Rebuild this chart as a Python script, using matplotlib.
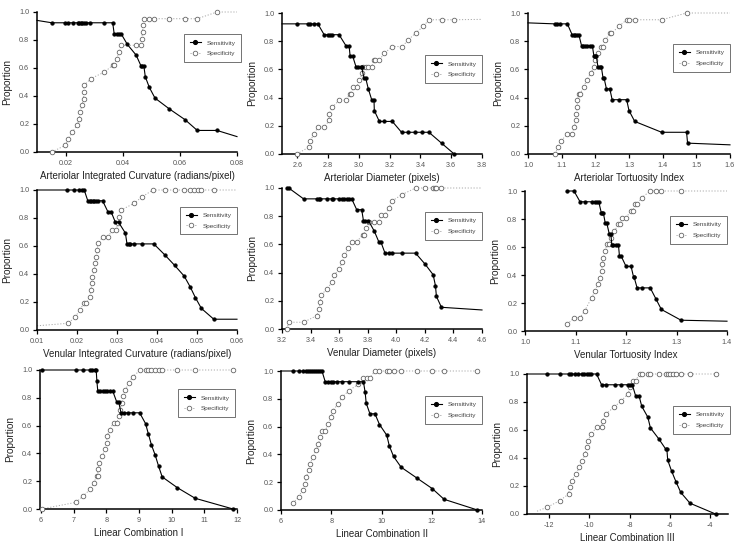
import matplotlib
matplotlib.use("Agg")
import matplotlib.pyplot as plt
from matplotlib.lines import Line2D

plt.rcParams['font.family'] = ['Liberation Sans', 'DejaVu Sans']

# ---------------- data ----------------
# Panel 1: Arteriolar Integrated Curvature
p1_sens_x = [0.0152, 0.0199, 0.0210, 0.0226, 0.0242, 0.0248, 0.0254, 0.0259, 0.0265, 0.0272, 0.0286, 0.0335, 0.0365,
             0.0370, 0.0379, 0.0388, 0.0394, 0.0416, 0.0447, 0.0464, 0.0469, 0.0474, 0.0479, 0.0493, 0.0513, 0.0563,
             0.0618, 0.0661, 0.0730]
p1_sens_y = [0.923] * 13 + [0.846] * 4 + [0.769, 0.692, 0.615, 0.615, 0.615, 0.538, 0.462, 0.385, 0.308, 0.231, 0.154, 0.154]
p1_spec_x = [0.0152, 0.0199, 0.0210, 0.0224, 0.0240, 0.0248, 0.0251, 0.0257, 0.0263, 0.0263, 0.0265, 0.0288, 0.0336,
             0.0365, 0.0370, 0.0379, 0.0388, 0.0394, 0.0447, 0.0463, 0.0466, 0.0470, 0.0470, 0.0474, 0.0492, 0.0509,
             0.0563, 0.0618, 0.0661, 0.0730]
p1_spec_y = [0.0, 0.048, 0.095, 0.143, 0.190, 0.238, 0.286, 0.333, 0.381, 0.429, 0.476, 0.524, 0.571, 0.619, 0.619,
             0.667, 0.714, 0.762, 0.762, 0.762, 0.810, 0.857, 0.905, 0.952, 0.952, 0.952, 0.952, 0.952, 0.952, 1.0]
p1_sens_ends = [(0.01, 0.94), (0.08, 0.11)]
p1_spec_ends = [None, (0.08, 1.0)]

# Panel 2: Arteriolar Diameter
p2_sens_x = [2.597, 2.668, 2.679, 2.705, 2.733, 2.774, 2.802, 2.813, 2.828, 2.871, 2.915, 2.936, 2.943, 2.960, 2.982,
             2.997, 3.012, 3.018, 3.033, 3.044, 3.061, 3.083, 3.098, 3.100, 3.133, 3.165, 3.217, 3.277, 3.321, 3.364,
             3.407, 3.455, 3.537, 3.619]
p2_sens_y = [0.923] * 5 + [0.846] * 5 + [0.769, 0.769, 0.692, 0.692] + [0.615] * 4 + [0.538, 0.538, 0.462, 0.385, 0.385,
             0.308, 0.231, 0.231, 0.231] + [0.154] * 5 + [0.077, 0.0]
p2_spec_x = [2.597, 2.673, 2.684, 2.709, 2.733, 2.774, 2.807, 2.807, 2.828, 2.871, 2.915, 2.943, 2.949, 2.964, 2.986,
             3.003, 3.023, 3.029, 3.044, 3.061, 3.083, 3.098, 3.105, 3.133, 3.165, 3.217, 3.282, 3.321, 3.368, 3.418,
             3.455, 3.537, 3.619]
p2_spec_y = [0.0, 0.048, 0.095, 0.143, 0.190, 0.190, 0.238, 0.286, 0.333, 0.381, 0.381, 0.429, 0.429, 0.476, 0.476,
             0.524, 0.571, 0.619, 0.619, 0.619, 0.619, 0.667, 0.667, 0.667, 0.714, 0.762, 0.762, 0.810, 0.857, 0.905,
             0.952, 0.952, 0.952]
p2_sens_ends = [(2.5, 0.923), None]
p2_spec_ends = [None, (3.8, 0.955)]

# Panel 3: Arteriolar Tortuosity Index
p3_sens_x = [1.079, 1.087, 1.094, 1.117, 1.131, 1.136, 1.141, 1.147, 1.151, 1.159, 1.164, 1.169, 1.176, 1.184, 1.191,
             1.196, 1.200, 1.203, 1.208, 1.213, 1.218, 1.223, 1.226, 1.233, 1.243, 1.250, 1.270, 1.293, 1.300, 1.317,
             1.397, 1.471, 1.474]
p3_sens_y = [0.923] * 4 + [0.846] * 5 + [0.769] * 6 + [0.692] * 3 + [0.615] * 3 + [0.538, 0.538, 0.462, 0.462,
             0.385, 0.385, 0.385, 0.308, 0.231, 0.154, 0.154, 0.077]
p3_spec_x = [1.081, 1.089, 1.099, 1.117, 1.131, 1.137, 1.142, 1.144, 1.146, 1.147, 1.151, 1.155, 1.166, 1.174, 1.186,
             1.196, 1.200, 1.208, 1.218, 1.223, 1.230, 1.243, 1.248, 1.270, 1.293, 1.300, 1.317, 1.397, 1.471]
p3_spec_y = [0.0, 0.048, 0.095, 0.143, 0.143, 0.190, 0.238, 0.286, 0.333, 0.381, 0.429, 0.429, 0.476, 0.524, 0.571,
             0.619, 0.667, 0.714, 0.762, 0.762, 0.810, 0.857, 0.857, 0.905, 0.952, 0.952, 0.952, 0.952, 1.0]
p3_sens_ends = [(1.0, 0.93), (1.6, 0.065)]
p3_spec_ends = [None, (1.6, 1.0)]

# Panel 4: Venular Integrated Curvature
p4_sens_x = [0.0175, 0.0193, 0.0204, 0.0213, 0.0218, 0.0227, 0.0232, 0.0235, 0.0239, 0.0243, 0.0248, 0.0252, 0.0264,
             0.0277, 0.0285, 0.0296, 0.0304, 0.0321, 0.0325, 0.0329, 0.0333, 0.0342, 0.0363, 0.0392, 0.0419, 0.0444,
             0.0468, 0.0483, 0.0496, 0.0511, 0.0542]
p4_sens_y = [1.0] * 5 + [0.923] * 8 + [0.846, 0.846, 0.769, 0.769, 0.692] + [0.615] * 6 + [0.538, 0.462, 0.385, 0.308,
             0.231, 0.154, 0.077]
p4_spec_x = [0.0178, 0.0196, 0.0207, 0.0217, 0.0223, 0.0232, 0.0235, 0.0237, 0.0238, 0.0243, 0.0246, 0.0248, 0.0250,
             0.0253, 0.0265, 0.0278, 0.0288, 0.0298, 0.0302, 0.0306, 0.0310, 0.0343, 0.0363, 0.0390, 0.0421, 0.0446,
             0.0468, 0.0483, 0.0493, 0.0502, 0.0511, 0.0542]
p4_spec_y = [0.048, 0.095, 0.143, 0.190, 0.190, 0.238, 0.286, 0.333, 0.381, 0.429, 0.476, 0.524, 0.571, 0.619, 0.667,
             0.667, 0.714, 0.714, 0.762, 0.810, 0.857, 0.905, 0.952] + [1.0] * 9
p4_sens_ends = [(0.01, 1.0), (0.06, 0.077)]
p4_spec_ends = [(0.01, 0.03), (0.06, 1.0)]

# Panel 5: Venular Diameter
p5_sens_x = [3.235, 3.247, 3.351, 3.444, 3.456, 3.467, 3.514, 3.549, 3.560, 3.600, 3.619, 3.637, 3.653, 3.670, 3.688,
             3.723, 3.758, 3.770, 3.781, 3.805, 3.847, 3.879, 3.893, 3.921, 3.949, 3.967, 4.042, 4.135, 4.200, 4.258,
             4.274, 4.281, 4.316]
p5_sens_y = [1.0, 1.0] + [0.923] * 13 + [0.846, 0.846, 0.769, 0.769, 0.769, 0.692, 0.615, 0.615] + [0.538] * 5 + \
            [0.462, 0.385, 0.308, 0.231, 0.154]
p5_spec_x = [3.235, 3.247, 3.351, 3.444, 3.460, 3.467, 3.474, 3.514, 3.553, 3.565, 3.602, 3.623, 3.637, 3.665, 3.688,
             3.723, 3.765, 3.774, 3.788, 3.809, 3.847, 3.879, 3.893, 3.921, 3.949, 3.967, 4.037, 4.135, 4.200, 4.258,
             4.270, 4.281, 4.316]
p5_spec_y = [0.0, 0.048, 0.048, 0.095, 0.143, 0.190, 0.238, 0.286, 0.333, 0.381, 0.429, 0.476, 0.524, 0.571, 0.619,
             0.619, 0.667, 0.667, 0.714, 0.762, 0.762, 0.762, 0.810, 0.810, 0.857, 0.905, 0.952] + [1.0] * 6
p5_sens_ends = [None, (4.6, 0.135)]
p5_spec_ends = [None, (4.6, 1.0)]

# Panel 6: Venular Tortuosity Index
p6_sens_x = [1.084, 1.097, 1.109, 1.118, 1.132, 1.139, 1.142, 1.146, 1.151, 1.153, 1.155, 1.159, 1.162, 1.167, 1.170,
             1.172, 1.175, 1.180, 1.185, 1.187, 1.190, 1.200, 1.210, 1.215, 1.216, 1.222, 1.231, 1.248, 1.259, 1.270,
             1.309]
p6_sens_y = [1.0, 1.0] + [0.923] * 6 + [0.846] * 3 + [0.769, 0.769, 0.692, 0.692] + [0.615] * 4 + [0.538, 0.538,
             0.462, 0.462, 0.385, 0.385, 0.308, 0.308, 0.308, 0.231, 0.154, 0.077]
p6_spec_x = [1.084, 1.097, 1.109, 1.118, 1.132, 1.139, 1.144, 1.149, 1.152, 1.153, 1.155, 1.159, 1.162, 1.167, 1.171,
             1.177, 1.185, 1.188, 1.193, 1.200, 1.210, 1.213, 1.218, 1.222, 1.231, 1.248, 1.259, 1.270, 1.309]
p6_spec_y = [0.048, 0.095, 0.095, 0.143, 0.238, 0.286, 0.333, 0.381, 0.429, 0.476, 0.524, 0.571, 0.619, 0.619, 0.667,
             0.714, 0.762, 0.762, 0.810, 0.810, 0.857, 0.857, 0.905, 0.905, 0.952, 1.0, 1.0, 1.0, 1.0]
p6_sens_ends = [None, (1.4, 0.07)]
p6_spec_ends = [None, (1.4, 1.0)]

# Panel 7: Linear Combination I
p7_sens_x = [6.02, 7.07, 7.30, 7.50, 7.56, 7.64, 7.69, 7.71, 7.74, 7.82, 7.89, 7.96, 8.02, 8.10, 8.20, 8.32, 8.38,
             8.45, 8.53, 8.66, 8.81, 9.02, 9.20, 9.29, 9.38, 9.50, 9.60, 9.71, 10.17, 10.72, 11.88]
p7_sens_y = [1.0] * 7 + [0.923] + [0.846] * 7 + [0.769, 0.769] + [0.692] * 5 + [0.615, 0.538, 0.462, 0.385, 0.308,
             0.231, 0.154, 0.077, 0.0]
p7_spec_x = [6.02, 7.07, 7.30, 7.51, 7.62, 7.71, 7.74, 7.74, 7.79, 7.87, 7.96, 8.01, 8.02, 8.10, 8.22, 8.32, 8.38,
             8.42, 8.47, 8.51, 8.58, 8.69, 8.81, 9.04, 9.20, 9.29, 9.38, 9.50, 9.60, 9.71, 10.17, 10.72, 11.88]
p7_spec_y = [0.0, 0.048, 0.095, 0.143, 0.190, 0.238, 0.238, 0.286, 0.333, 0.381, 0.429, 0.476, 0.524, 0.571, 0.619,
             0.619, 0.667, 0.714, 0.762, 0.810, 0.857, 0.905, 0.952] + [1.0] * 10
p7_sens_ends = [None, None]
p7_spec_ends = [None, None]

# Panel 8: Linear Combination II
p8_sens_x = [6.46, 6.70, 6.86, 6.99, 7.07, 7.16, 7.23, 7.32, 7.40, 7.47, 7.56, 7.63, 7.76, 7.89, 7.98, 8.06, 8.22,
             8.42, 8.69, 9.08, 9.28, 9.35, 9.39, 9.54, 9.74, 9.92, 10.21, 10.31, 10.48, 10.78, 11.40, 12.02, 12.49,
             13.82]
p8_sens_y = [1.0] * 12 + [0.923] * 9 + [0.846, 0.769, 0.692, 0.692, 0.615, 0.538, 0.462, 0.385, 0.308, 0.231, 0.154,
             0.077, 0.0]
p8_spec_x = [6.48, 6.70, 6.86, 6.97, 7.01, 7.10, 7.16, 7.27, 7.39, 7.49, 7.56, 7.63, 7.76, 7.89, 7.98, 8.06, 8.26,
             8.42, 8.69, 9.08, 9.28, 9.41, 9.54, 9.74, 9.92, 10.21, 10.31, 10.48, 10.78, 11.40, 12.02, 12.49, 13.82]
p8_spec_y = [0.048, 0.095, 0.143, 0.190, 0.238, 0.286, 0.333, 0.381, 0.429, 0.476, 0.524, 0.571, 0.571, 0.619, 0.667,
             0.714, 0.762, 0.810, 0.857, 0.905, 0.952, 0.952, 0.952] + [1.0] * 10
p8_sens_ends = [(6.0, 1.0), None]
p8_spec_ends = [None, None]

# Panel 9: Linear Combination III
p9_sens_x = [-12.10, -11.47, -11.03, -10.92, -10.70, -10.54, -10.37, -10.26, -10.13, -10.01, -9.91, -9.64, -9.39,
             -9.18, -8.73, -8.40, -8.08, -7.96, -7.86, -7.70, -7.53, -7.39, -7.09, -6.96, -6.55, -6.19, -6.14, -6.10,
             -5.91, -5.69, -5.45, -4.99, -3.72]
p9_sens_y = [1.0] * 12 + [0.923] * 7 + [0.846, 0.846, 0.769, 0.692, 0.615, 0.538, 0.462, 0.462, 0.385, 0.308, 0.231,
             0.154, 0.077, 0.0]
p9_spec_x = [-12.10, -11.47, -11.03, -10.98, -10.87, -10.67, -10.49, -10.34, -10.21, -10.13, -10.05, -9.91, -9.64,
             -9.39, -9.34, -9.18, -8.78, -8.40, -8.08, -7.96, -7.83, -7.70, -7.50, -7.39, -7.09, -6.98, -6.55, -6.19,
             -6.10, -5.99, -5.86, -5.69, -5.45, -4.99, -3.72]
p9_spec_y = [0.048, 0.095, 0.143, 0.190, 0.238, 0.286, 0.333, 0.381, 0.429, 0.476, 0.524, 0.571, 0.619, 0.619, 0.667,
             0.714, 0.762, 0.810, 0.857, 0.905, 0.952, 0.952] + [1.0] * 13
p9_sens_ends = [(-13.1, 1.0), None]
p9_spec_ends = [(-12.6, 0.02), None]

x_labels = ["Arteriolar Integrated Curvature (radians/pixel)", "Arteriolar Diameter (pixels)",
            "Arteriolar Tortuosity Index", "Venular Integrated Curvature (radians/pixel)",
            "Venular Diameter (pixels)", "Venular Tortuosity Index", "Linear Combination I",
            "Linear Combination II", "Linear Combination III"]
x_limits = [(0.01, 0.08), (2.5, 3.8), (1.0, 1.6), (0.01, 0.06), (3.2, 4.6), (1.0, 1.4), (5.97, 12.0), (6.0, 14.0),
            (-13.1, -3.1)]
x_ticks = [[0.02, 0.04, 0.06, 0.08], [2.6, 2.8, 3.0, 3.2, 3.4, 3.6, 3.8], [1.0, 1.1, 1.2, 1.3, 1.4, 1.5, 1.6],
           [0.01, 0.02, 0.03, 0.04, 0.05, 0.06], [3.2, 3.4, 3.6, 3.8, 4.0, 4.2, 4.4, 4.6],
           [1.0, 1.1, 1.2, 1.3, 1.4], [6, 7, 8, 9, 10, 11, 12], [6, 8, 10, 12, 14], [-12, -10, -8, -6, -4]]
x_fmt = ["{:.2f}", "{:.1f}", "{:.1f}", "{:.2f}", "{:.1f}", "{:.1f}", "{:.0f}", "{:.0f}", "{:.0f}"]
y_ticks = [0.0, 0.2, 0.4, 0.6, 0.8, 1.0]

panels = [
    (p1_sens_x, p1_sens_y, p1_spec_x, p1_spec_y, p1_sens_ends, p1_spec_ends),
    (p2_sens_x, p2_sens_y, p2_spec_x, p2_spec_y, p2_sens_ends, p2_spec_ends),
    (p3_sens_x, p3_sens_y, p3_spec_x, p3_spec_y, p3_sens_ends, p3_spec_ends),
    (p4_sens_x, p4_sens_y, p4_spec_x, p4_spec_y, p4_sens_ends, p4_spec_ends),
    (p5_sens_x, p5_sens_y, p5_spec_x, p5_spec_y, p5_sens_ends, p5_spec_ends),
    (p6_sens_x, p6_sens_y, p6_spec_x, p6_spec_y, p6_sens_ends, p6_spec_ends),
    (p7_sens_x, p7_sens_y, p7_spec_x, p7_spec_y, p7_sens_ends, p7_spec_ends),
    (p8_sens_x, p8_sens_y, p8_spec_x, p8_spec_y, p8_sens_ends, p8_spec_ends),
    (p9_sens_x, p9_sens_y, p9_spec_x, p9_spec_y, p9_sens_ends, p9_spec_ends),
]

# ---------------- layout (pixels: left, top, right, bottom) ----------------
W, H = 744, 544
rects = [(37, 12, 237, 152), (282, 13, 482, 154), (528, 13, 730, 154),
         (37, 190, 237, 330), (282, 188, 482, 329), (525, 191, 727, 331),
         (40, 370, 237, 509), (281, 371, 482, 510), (527, 374, 728, 514)]
legend_pos = [(1.02, 0.84), (1.0, 0.70), (1.0, 0.78), (1.0, 0.88), (1.0, 0.83), (1.0, 0.82), (0.99, 0.86),
              (1.0, 0.82), (1.01, 0.77)]

fig = plt.figure(figsize=(W / 100, H / 100), dpi=100)

SENS_C = 'black'
SPEC_C = '#666666'
SPEC_LINE = '#a8a8a8'


def with_ends(xs, ys, ends):
    xx, yy = list(xs), list(ys)
    if ends[0] is not None:
        xx = [ends[0][0]] + xx
        yy = [ends[0][1]] + yy
    if ends[1] is not None:
        xx = xx + [ends[1][0]]
        yy = yy + [ends[1][1]]
    return xx, yy


for i, (sx, sy, px, py, s_ends, p_ends) in enumerate(panels):
    l, t, r, b = rects[i]
    ax = fig.add_axes([l / W, 1 - b / H, (r - l) / W, (b - t) / H])
    # specificity
    lx, ly = with_ends(px, py, p_ends)
    ax.plot(lx, ly, color=SPEC_LINE, lw=0.7, ls=(0, (1.2, 1.8)), clip_on=False, zorder=2)
    ax.plot(px, py, ls='none', marker='o', ms=3.3, mfc='white', mec=SPEC_C, mew=0.6, clip_on=False, zorder=3)
    # sensitivity
    lx, ly = with_ends(sx, sy, s_ends)
    ax.plot(lx, ly, color=SENS_C, lw=0.8, clip_on=False, zorder=4)
    ax.plot(sx, sy, ls='none', marker='o', ms=2.7, mfc=SENS_C, mec=SENS_C, mew=0.3, clip_on=False, zorder=5)

    ax.set_xlim(*x_limits[i])
    ax.set_ylim(0, 1.0)
    ax.set_xticks(x_ticks[i])
    ax.set_xticklabels([x_fmt[i].format(v) for v in x_ticks[i]])
    ax.set_yticks(y_ticks)
    ax.set_yticklabels(["{:.1f}".format(v) for v in y_ticks])
    for s in ['top', 'right']:
        ax.spines[s].set_visible(False)
    for s in ['left', 'bottom']:
        ax.spines[s].set_linewidth(1.1)
    ax.tick_params(axis='both', direction='out', length=3, width=0.9, labelsize=5.2,
                   labelcolor='#555555', pad=2.5)
    ax.set_xlabel(x_labels[i], fontsize=7, color='#222222', labelpad=3)
    ax.set_ylabel("Proportion", fontsize=7.2, color='#222222', labelpad=5)

    handles = [Line2D([0], [0], color=SENS_C, lw=0.8, marker='o', ms=2.7, mfc=SENS_C, mec=SENS_C),
               Line2D([0], [0], color=SPEC_LINE, lw=0.7, ls=(0, (1.2, 1.8)), marker='o', ms=3.3,
                      mfc='white', mec=SPEC_C, mew=0.6)]
    leg = ax.legend(handles, ["Sensitivity", "Specificity"], loc='upper right',
                    bbox_to_anchor=legend_pos[i], fontsize=4.6, frameon=True, fancybox=False,
                    edgecolor='#333333', borderpad=0.9, labelspacing=0.8, handlelength=1.8,
                    handletextpad=0.8, borderaxespad=0)
    leg.get_frame().set_linewidth(0.6)
    for txt in leg.get_texts():
        txt.set_color('#444444')

fig.savefig("out.png", dpi=100, facecolor='white')
